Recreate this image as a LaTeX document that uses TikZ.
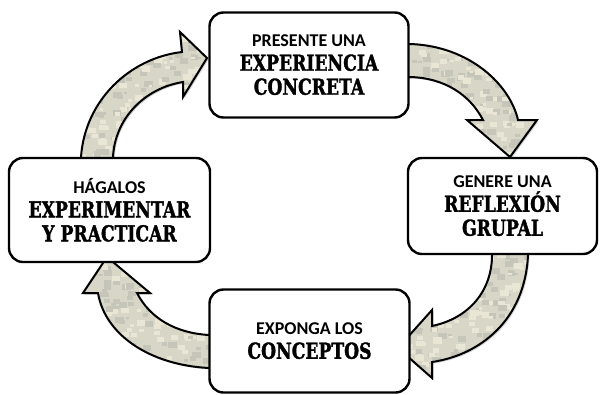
\documentclass[tikz,border=0pt]{standalone}
\usepackage{fontspec}
\setmainfont{Carlito}
\newfontfamily\stencilfont[FakeStretch=0.78,FakeBold=1.5]{DejaVu Serif}
\usepackage{xcolor}
\usepackage{tikz}
\usetikzlibrary{shadows}
\usetikzlibrary{calc}
\definecolor{camo}{RGB}{216,214,199}
\definecolor{camoOscuro}{RGB}{198,197,186}
\definecolor{camoClaro}{RGB}{234,230,213}
\newcommand\stenc{\stencilfont\bfseries\fontsize{22}{24}\selectfont}

\begin{document}
\begin{tikzpicture}[x = 1pt, y = -1pt,
                    box/.style = { draw, black, fill = white, line width = 2.4pt, rounded corners = 14pt, align = center, inner sep = 0pt, text = black, font = \bfseries\fontsize{18}{24}\selectfont },
                    flecha/.style = { draw, black, line width = 2pt, fill = camo, line join = miter, drop shadow = {opacity = 0.35, shadow xshift = 1.5pt, shadow yshift = -1.5pt},
                                      path picture = { \pgfmathsetseed{7}
                                                       \foreach \k in {1,...,300} {
                                                           \pgfmathsetmacro\cx{rnd*140} \pgfmathsetmacro\cy{rnd*140} \pgfmathsetmacro\cw{3+rnd*6}
                                                           \ifodd\k \def\tono{camoClaro}\else\def\tono{camoOscuro}\fi
                                                           \fill[\tono] ($(path picture bounding box.north west)+(\cx,\cy)$) rectangle ++(\cw,0.7*\cw);
                                                       } } },
                   ]
    \useasboundingbox (0,0) rectangle (601,394);

    \draw[flecha] (402,44) -- (410,44) .. controls (470,46) and (510,85) .. (518,120) -- (537,120) -- (510,157) -- (467,120) -- (483,120) .. controls (470,95) and (445,78) .. (410,77) -- (402,77) -- cycle;
    \draw[flecha] (528,248) -- (528,255) .. controls (525,320) and (480,355) .. (432,362) -- (432,378) -- (398,348) -- (432,310) -- (432,326) .. controls (470,318) and (492,290) .. (492,255) -- (492,248) -- cycle;
    \draw[flecha] (216,368) -- (209,368) .. controls (150,365) and (105,335) .. (98,293) -- (83,293) -- (107,257) -- (150,293) -- (137,293) .. controls (150,318) and (175,333) .. (209,335) -- (216,335) -- cycle;
    \draw[flecha] (81,164) -- (81,157) .. controls (85,100) and (130,58) .. (182,52) -- (180,32) -- (207,58) -- (183,97) -- (183,82) .. controls (145,88) and (115,118) .. (113,157) -- (113,164) -- cycle;

    \node[box, minimum width = 199pt, minimum height = 105pt] (Experiencia) at (309,65) {PRESENTE UNA\\{\stenc EXPERIENCIA}\\{\stenc CONCRETA}};
    \node[box, minimum width = 189pt, minimum height = 96pt] (Reflexion) at (502.5,206) {GENERE UNA\\{\stenc REFLEXIÓN}\\{\stenc GRUPAL}};
    \node[box, minimum width = 200pt, minimum height = 103pt] (Conceptos) at (309.5,341) {EXPONGA LOS\\{\stenc CONCEPTOS}};
    \node[box, minimum width = 201pt, minimum height = 104pt] (Practica) at (109.5,210) {HÁGALOS\\{\stenc EXPERIMENTAR}\\{\stenc Y PRACTICAR}};
\end{tikzpicture}
\end{document}
